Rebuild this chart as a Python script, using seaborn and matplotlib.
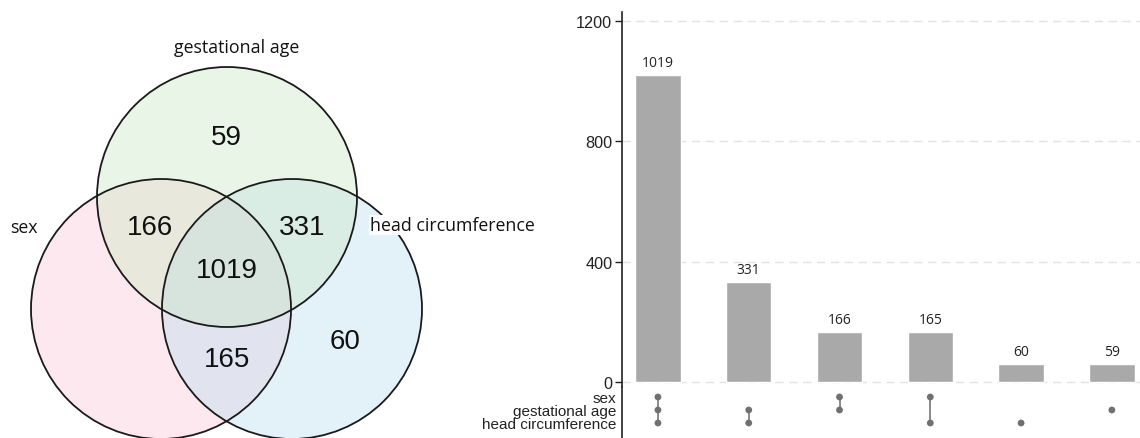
import numpy as np
import pandas as pd
import seaborn as sns
import matplotlib.pyplot as plt
from matplotlib.patches import Circle

# data
set_names = ['sex', 'gestational age', 'head circumference']
combos = [('sex', 'gestational age', 'head circumference'),
          ('gestational age', 'head circumference'),
          ('sex', 'gestational age'),
          ('sex', 'head circumference'),
          ('head circumference',),
          ('gestational age',)]
counts = [1019, 331, 166, 165, 60, 59]

sns.set_theme(style="white")
plt.rcParams['font.family'] = ['Open Sans', 'DejaVu Sans']
arial = ['Liberation Sans', 'DejaVu Sans']

fig = plt.figure(figsize=(11.4, 4.39), dpi=100)

# ---- venn (left), axes in pixel units
ax_v = fig.add_axes([0, 0, 560 / 1140, 1])
ax_v.set_xlim(0, 560)
ax_v.set_ylim(439, 0)
ax_v.axis('off')

centers = {'gestational age': (227, 198), 'sex': (161, 310), 'head circumference': (292, 310)}
fills = {'sex': (248/255, 198/255, 213/255), 'gestational age': (202/255, 232/255, 197/255),
         'head circumference': (185/255, 220/255, 242/255)}
r = 130
for name in ['sex', 'head circumference', 'gestational age']:
    ax_v.add_patch(Circle(centers[name], r, facecolor=fills[name], alpha=0.4, edgecolor='none'))
for name in set_names:
    ax_v.add_patch(Circle(centers[name], r, facecolor='none', edgecolor='#1a1a1a', lw=1.3))

# where each region's count sits
region_pos = {combos[0]: (227, 271), combos[1]: (302, 228), combos[2]: (150, 228),
              combos[3]: (227, 360), combos[4]: (345, 342), combos[5]: (226, 138)}
for combo, n in zip(combos, counts):
    x, y = region_pos[combo]
    ax_v.text(x, y, str(n), ha='center', va='center', fontsize=20,
              family=arial, color='#111111')

ax_v.text(237, 48, 'gestational age', ha='center', va='center', fontsize=12.8, color='#111111')
ax_v.text(10, 228, 'sex', ha='left', va='center', fontsize=12.8, color='#111111')
ax_v.text(370, 226, 'head circumference', ha='left', va='center', fontsize=12.8, color='#111111',
          bbox=dict(facecolor='white', edgecolor='none', pad=1))

# ---- upset bars (right)
labels = [' & '.join(c) for c in combos]
df = pd.DataFrame({'combo': labels, 'count': counts})

ax_b = fig.add_axes([622 / 1140, 51 / 439, 518 / 1140, 375.3 / 439])
sns.barplot(data=df, x='combo', y='count', order=labels, color='#a9a9a9', width=0.5,
            saturation=1, ax=ax_b)
ax_b.set_xlim(-0.396, 5.31)
ax_b.set_ylim(-16.6, 1231)
ax_b.set_yticks([0, 400, 800, 1200])
ax_b.set_xticks([])
ax_b.set_xlabel('')
ax_b.set_ylabel('')
for y in [0, 400, 800, 1200]:
    ax_b.axhline(y, color='#e2e2e2', lw=1, ls=(0, (6, 4)), zorder=0)
for i, n in enumerate(counts):
    ax_b.text(i, n + 18, str(n), ha='center', va='bottom', fontsize=10, color='#222222')
for s in ['top', 'right', 'bottom']:
    ax_b.spines[s].set_visible(False)
ax_b.spines['left'].set_color('#222222')
ax_b.spines['left'].set_linewidth(1.2)
ax_b.tick_params(axis='y', left=True, length=5, width=1, color='#222222', pad=2,
                 labelsize=11.7, labelcolor='#222222')
for t in ax_b.get_yticklabels():
    t.set_family(arial)

# ---- membership matrix
rows = []
for i, c in enumerate(combos):
    for j, s in enumerate(set_names):
        if s in c:
            rows.append({'x': i, 'y': j})
mdf = pd.DataFrame(rows)

ax_m = fig.add_axes([622 / 1140, 0, 518 / 1140, 51 / 439])
for i, g in mdf.groupby('x'):
    if len(g) > 1:
        ax_m.plot([i, i], [g['y'].min(), g['y'].max()], color='#808080', lw=1.3, zorder=1)
sns.scatterplot(data=mdf, x='x', y='y', color='#707070', s=24, edgecolor='none', ax=ax_m, zorder=2)
ax_m.set_xlim(-0.396, 5.31)
# rows at 398, 411, 424 px; axes spans 388..439 px
ax_m.set_ylim((439 - 398) / 13, (388 - 398) / 13)
ax_m.set_xticks([])
ax_m.set_yticks(range(len(set_names)))
ax_m.set_yticklabels(set_names, family=arial)
ax_m.set_xlabel('')
ax_m.set_ylabel('')
for s in ['top', 'right', 'bottom']:
    ax_m.spines[s].set_visible(False)
ax_m.spines['left'].set_color('#222222')
ax_m.spines['left'].set_linewidth(1.2)
ax_m.tick_params(axis='y', length=0, pad=4, labelsize=11, labelcolor='#222222')

fig.savefig('out.png', dpi=100)
